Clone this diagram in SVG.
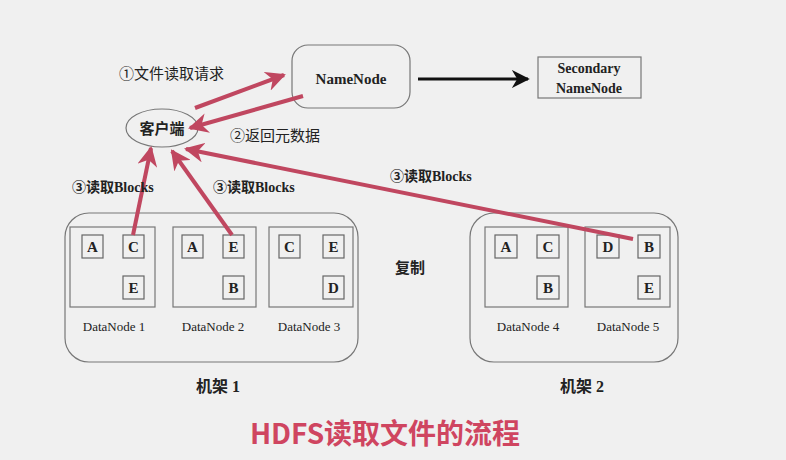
<svg xmlns="http://www.w3.org/2000/svg" width="786" height="460" viewBox="0 0 786 460">
<style>
.t{font-family:"Liberation Serif","Noto Sans CJK SC",serif;fill:#222}
.b{font-weight:bold}
.box{fill:none;stroke:#777;stroke-width:1.2}
.blk{fill:none;stroke:#666;stroke-width:1.2}
.red{stroke:#c04760;stroke-width:4;fill:none;marker-end:url(#ra)}
</style>
<defs>
<marker id="ra" viewBox="0 0 10 10" refX="9" refY="5" markerWidth="5" markerHeight="5" orient="auto"><path d="M0,0 L10,5 L0,10 L3,5z" fill="#c04760"/></marker>
<marker id="ka" viewBox="0 0 10 10" refX="9" refY="5" markerWidth="6" markerHeight="6" orient="auto"><path d="M0,0 L10,5 L0,10 L3,5z" fill="#111"/></marker>
</defs>
<rect width="786" height="460" fill="#f0f0f0"/>
<g id="namenode"><rect x="292" y="45" width="118" height="63" rx="16" class="box"/><text x="351" y="84" class="t b" font-size="15" text-anchor="middle">NameNode</text></g>
<g id="secondary"><rect x="538" y="57" width="103" height="41" class="box"/><text x="589" y="73" class="t b" font-size="14" text-anchor="middle">Secondary</text><text x="589" y="93" class="t b" font-size="14" text-anchor="middle">NameNode</text></g>
<g id="client"><ellipse cx="162" cy="128" rx="36" ry="19" class="box"/><text x="162" y="134" class="t b" font-size="15" text-anchor="middle">客户端</text></g>
<g id="rack1"><rect x="65" y="213" width="293" height="149" rx="24" class="box"/><text x="218" y="392" class="t b" font-size="16" text-anchor="middle">机架 1</text></g>
<g id="rack2"><rect x="470" y="213" width="208" height="149" rx="24" class="box"/><text x="582" y="392" class="t b" font-size="16" text-anchor="middle">机架 2</text></g>
<g id="dn1"><rect x="70" y="227" width="85" height="80" class="box"/>
<rect x="82" y="235" width="21" height="23" class="blk"/><text x="92.5" y="252" class="t b" font-size="15" text-anchor="middle">A</text>
<rect x="123" y="235" width="21" height="23" class="blk"/><text x="133.5" y="252" class="t b" font-size="15" text-anchor="middle">C</text>
<rect x="123" y="276" width="21" height="23" class="blk"/><text x="133.5" y="293" class="t b" font-size="15" text-anchor="middle">E</text>
<text x="114" y="331" class="t" font-size="13" text-anchor="middle">DataNode 1</text></g>
<g id="dn2"><rect x="173" y="227" width="83" height="80" class="box"/>
<rect x="182" y="235" width="21" height="23" class="blk"/><text x="192.5" y="252" class="t b" font-size="15" text-anchor="middle">A</text>
<rect x="223" y="235" width="21" height="23" class="blk"/><text x="233.5" y="252" class="t b" font-size="15" text-anchor="middle">E</text>
<rect x="223" y="276" width="21" height="23" class="blk"/><text x="233.5" y="293" class="t b" font-size="15" text-anchor="middle">B</text>
<text x="213" y="331" class="t" font-size="13" text-anchor="middle">DataNode 2</text></g>
<g id="dn3"><rect x="269" y="227" width="84" height="80" class="box"/>
<rect x="279" y="235" width="21" height="23" class="blk"/><text x="289.5" y="252" class="t b" font-size="15" text-anchor="middle">C</text>
<rect x="323" y="235" width="21" height="23" class="blk"/><text x="333.5" y="252" class="t b" font-size="15" text-anchor="middle">E</text>
<rect x="323" y="276" width="21" height="23" class="blk"/><text x="333.5" y="293" class="t b" font-size="15" text-anchor="middle">D</text>
<text x="309" y="331" class="t" font-size="13" text-anchor="middle">DataNode 3</text></g>
<g id="dn4"><rect x="485" y="227" width="83" height="80" class="box"/>
<rect x="495" y="235" width="22" height="23" class="blk"/><text x="506" y="252" class="t b" font-size="15" text-anchor="middle">A</text>
<rect x="537" y="235" width="22" height="23" class="blk"/><text x="548" y="252" class="t b" font-size="15" text-anchor="middle">C</text>
<rect x="537" y="276" width="22" height="23" class="blk"/><text x="548" y="293" class="t b" font-size="15" text-anchor="middle">B</text>
<text x="528" y="331" class="t" font-size="13" text-anchor="middle">DataNode 4</text></g>
<g id="dn5"><rect x="585" y="227" width="85" height="80" class="box"/>
<rect x="597" y="235" width="22" height="23" class="blk"/><text x="608" y="252" class="t b" font-size="15" text-anchor="middle">D</text>
<rect x="638" y="235" width="22" height="23" class="blk"/><text x="649" y="252" class="t b" font-size="15" text-anchor="middle">B</text>
<rect x="638" y="276" width="22" height="23" class="blk"/><text x="649" y="293" class="t b" font-size="15" text-anchor="middle">E</text>
<text x="628" y="331" class="t" font-size="13" text-anchor="middle">DataNode 5</text></g>
<g id="connectors">
<line x1="418" y1="79" x2="528" y2="79" stroke="#111" stroke-width="3" marker-end="url(#ka)"/>
<line x1="195" y1="108" x2="284" y2="75" class="red"/>
<line x1="303" y1="96" x2="190" y2="128" class="red"/>
<line x1="133" y1="235" x2="151" y2="148" class="red"/>
<line x1="232" y1="235" x2="172" y2="151" class="red"/>
<line x1="633" y1="239" x2="186" y2="149" class="red"/>
</g>
<g id="labels">
<text x="119" y="79" class="t" font-size="15">①文件读取请求</text>
<text x="230" y="141" class="t" font-size="15">②返回元数据</text>
<text x="72" y="192" class="t b" font-size="14">③读取Blocks</text>
<text x="213" y="192" class="t b" font-size="14">③读取Blocks</text>
<text x="390" y="181" class="t b" font-size="14">③读取Blocks</text>
<text x="395" y="273" class="t b" font-size="15">复制</text>
<text x="385" y="444" font-family="Noto Sans CJK SC,sans-serif" font-weight="bold" font-size="28" fill="#cf4560" text-anchor="middle">HDFS读取文件的流程</text>
</g>
</svg>
